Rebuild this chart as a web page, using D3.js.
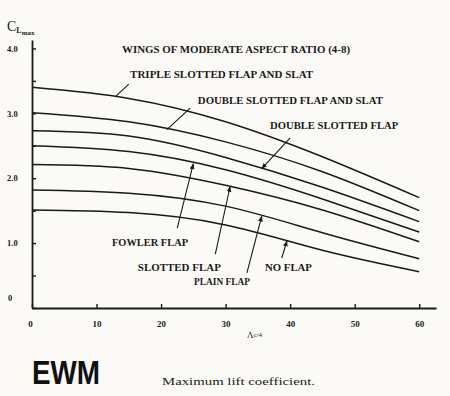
<!DOCTYPE html>
<html>
<head>
<meta charset="utf-8">
<script src="https://cdn.jsdelivr.net/npm/d3@7"></script>
<style>
  html, body { margin: 0; padding: 0; background: #fbfaf7; }
  svg { display: block; }
  .lbl { font-family: "Liberation Serif", "DejaVu Serif", serif; font-weight: bold; fill: #1a1a1a; }
</style>
</head>
<body>
<script>
// sweep angle of quarter chord (deg) and CLmax
const sweepDeg = [0, 15, 30, 45, 60];
const tripleSlottedFlapAndSlat = [3.40, 3.23, 2.87, 2.33, 1.70];
const doubleSlottedFlapAndSlat = [3.01, 2.87, 2.56, 2.10, 1.50];
const doubleSlottedFlap = [2.73, 2.65, 2.32, 1.86, 1.33];
const fowlerFlap = [2.50, 2.41, 2.13, 1.68, 1.17];
const slottedFlap = [2.21, 2.15, 1.89, 1.51, 1.02];
const plainFlap = [1.82, 1.77, 1.57, 1.16, 0.76];
const noFlap = [1.51, 1.47, 1.28, 0.89, 0.56];

const seriesNames = ["TRIPLE SLOTTED FLAP AND SLAT", "DOUBLE SLOTTED FLAP AND SLAT", "DOUBLE SLOTTED FLAP",
    "FOWLER FLAP", "SLOTTED FLAP", "PLAIN FLAP", "NO FLAP"];
const seriesValues = [tripleSlottedFlapAndSlat, doubleSlottedFlapAndSlat, doubleSlottedFlap,
    fowlerFlap, slottedFlap, plainFlap, noFlap];

const xTicks = [0, 10, 20, 30, 40, 50, 60];
const yTicks = [0, 0.5, 1, 1.5, 2, 2.5, 3, 3.5, 4];
const yTickLabels = {0: "0", 1: "1.0", 2: "2.0", 3: "3.0", 4: "4.0"};

const W = 450, H = 396;

const svg = d3.select("body").append("svg")
    .attr("width", W)
    .attr("height", H);

const x = d3.scaleLinear().domain([0, 62.6]).range([32, 436]);
const y = d3.scaleLinear().domain([0, 4.13]).range([308, 40]);

const ink = "#1a1a1a";

// arrow head for leader lines
svg.append("defs").append("marker")
    .attr("id", "arr")
    .attr("viewBox", "0 0 10 10")
    .attr("refX", 9).attr("refY", 5)
    .attr("markerWidth", 6).attr("markerHeight", 6)
    .attr("markerUnits", "userSpaceOnUse")
    .attr("orient", "auto")
    .append("path")
    .attr("d", "M0,1 L10,5 L0,9 Z")
    .attr("fill", ink);

// axes
const yAxis = svg.append("g")
    .attr("transform", `translate(${x(0)},0)`)
    .call(d3.axisLeft(y).tickValues(yTicks).tickSize(-4).tickSizeOuter(0).tickPadding(12)
        .tickFormat(d => yTickLabels[d] || ""));
yAxis.select(".domain").attr("stroke", ink).attr("stroke-width", 1.8);
yAxis.selectAll(".tick line").attr("stroke", ink).attr("stroke-width", 1.4);
yAxis.selectAll(".tick text")
    .attr("class", "lbl")
    .style("font-size", "8.5px")
    .attr("text-anchor", "start")
    .attr("x", -25);
yAxis.selectAll(".tick").filter(d => d === 0).select("text").attr("y", -10).attr("x", -24);

const xAxis = svg.append("g")
    .attr("transform", `translate(0,${y(0)})`)
    .call(d3.axisBottom(x).tickValues(xTicks).tickSize(-4).tickSizeOuter(0).tickPadding(13)
        .tickFormat(d3.format("d")));
xAxis.select(".domain").attr("stroke", ink).attr("stroke-width", 1.8);
xAxis.selectAll(".tick line").attr("stroke", ink).attr("stroke-width", 1.4);
xAxis.selectAll(".tick text").attr("class", "lbl").style("font-size", "9px");
xAxis.selectAll(".tick").filter(d => d === 0).select("text").attr("x", -2);

// curves
const line = d3.line()
    .x((d, i) => x(sweepDeg[i]))
    .y(d => y(d))
    .curve(d3.curveNatural);

svg.append("g").selectAll("path")
    .data(seriesValues)
    .join("path")
    .attr("d", d => line(d))
    .attr("fill", "none")
    .attr("stroke", ink)
    .attr("stroke-width", 1.5);

// value of a series at a sweep angle (for leader tips)
const valueAt = (vals, deg) => d3.scaleLinear().domain(sweepDeg).range(vals)(deg);

// label layout: text start (deg, CL), width px, leader start (deg, CL), tip deg, arrow
const labelLayout = [
    [15.2, 3.54, 183, 15.0, 3.45, 12.9, false],
    [25.7, 3.14, 185, 24.5, 3.08, 20.9, false],
    [36.9, 2.76, 128, 40.0, 2.62, 35.6, true],
    [12.4, 0.955, 76, 22.5, 1.23, 25.0, true],
    [16.4, 0.57, 83, 28.4, 0.83, 30.7, true],
    [25.1, 0.354, 56, 33.3, 0.54, 35.6, true],
    [36.1, 0.57, 47, 38.7, 0.77, 39.5, true]
];

const ann = svg.append("g");
labelLayout.forEach((l, i) => {
    ann.append("text")
        .attr("class", "lbl")
        .attr("x", x(l[0]))
        .attr("y", y(l[1]))
        .attr("textLength", l[2])
        .attr("lengthAdjust", "spacingAndGlyphs")
        .style("font-size", "9.5px")
        .text(seriesNames[i]);
    ann.append("line")
        .attr("x1", x(l[3])).attr("y1", y(l[4]))
        .attr("x2", x(l[5])).attr("y2", y(valueAt(seriesValues[i], l[5])))
        .attr("stroke", ink)
        .attr("stroke-width", 1.1)
        .attr("marker-end", l[6] ? "url(#arr)" : null);
});

ann.append("text")
    .attr("class", "lbl")
    .attr("x", x(13.95)).attr("y", y(3.93))
    .attr("textLength", 228)
    .attr("lengthAdjust", "spacingAndGlyphs")
    .style("font-size", "9.5px")
    .text("WINGS OF MODERATE ASPECT RATIO (4-8)");

// axis titles
const yt = svg.append("text").attr("class", "lbl").attr("x", 7).attr("y", 31);
yt.append("tspan").style("font-size", "14px").style("font-weight", "normal").text("C");
yt.append("tspan").attr("dy", 2).style("font-size", "8px").text("L");
yt.append("tspan").attr("dy", 2).style("font-size", "7px").text("max");

const xt = svg.append("text").attr("class", "lbl").attr("x", 247).attr("y", 338);
xt.append("tspan").style("font-size", "9px").style("font-weight", "normal").text("Λ");
xt.append("tspan").attr("dy", -1).style("font-size", "7px").style("font-weight", "normal").text("c/4");

svg.append("text")
    .attr("x", 162).attr("y", 385)
    .attr("textLength", 153)
    .attr("lengthAdjust", "spacingAndGlyphs")
    .style("font-family", "'Liberation Serif', serif")
    .style("font-size", "11px")
    .attr("fill", ink)
    .text("Maximum lift coefficient.");

svg.append("text")
    .attr("x", 32).attr("y", 384)
    .attr("textLength", 68)
    .attr("lengthAdjust", "spacingAndGlyphs")
    .style("font-family", "'Liberation Sans', Arial, sans-serif")
    .style("font-weight", "bold")
    .style("font-size", "34px")
    .attr("fill", "#111")
    .text("EWM");
</script>
</body>
</html>
